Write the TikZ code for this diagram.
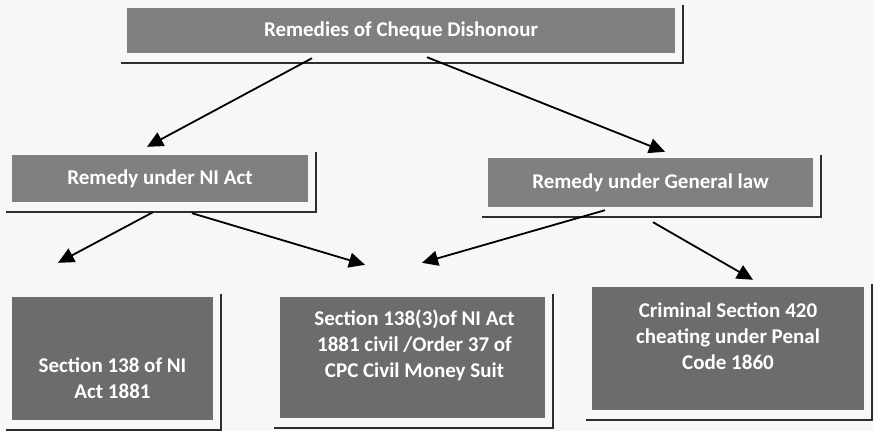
\documentclass[tikz,border=0pt]{standalone}
\usepackage{fontspec}
\setmainfont{Carlito}
\usetikzlibrary{
    arrows.meta,
    positioning,
    calc,
    backgrounds,
}
\definecolor{paper}{RGB}{247,246,248}
\definecolor{boxgray}{RGB}{128,128,128}
\definecolor{leafgray}{RGB}{108,108,108}
\definecolor{rimgray}{RGB}{45,45,45}

% right and bottom rim drawn beside a box
\newcommand{\boxrim}[1]{%
  \draw[rim] ($(#1.north east)+(8,-3)$) -- ($(#1.south east)+(8,10)$)
             -- ($(#1.south west)+(-6,10)$);}

\begin{document}
\begin{tikzpicture}[
    x=1pt, y=-1pt,
    head/.style={fill=boxgray, inner sep=0pt, text=white, align=center,
                font=\bfseries\fontsize{21}{26}\selectfont},
    leaf/.style={fill=leafgray, inner sep=0pt},
    leaftext/.style={text=white, align=center, inner sep=0pt,
                font=\bfseries\fontsize{21}{26}\selectfont},
    rim/.style={draw=rimgray, line width=2.2pt},
    arr/.style={-{Triangle[length=16pt,width=15pt]}, line width=1.8pt},
]
\fill[paper] (0,0) rectangle (874,431);
\useasboundingbox (0,0) rectangle (874,431);

\node[head, minimum width=548pt, minimum height=45pt] at (401,30.5) (remedies) {Remedies of Cheque Dishonour};
\node[head, minimum width=296pt, minimum height=47pt] at (160,178.5) (niAct) {Remedy under NI Act};
\node[head, minimum width=325pt, minimum height=49pt] at (650.5,182.5) (general) {Remedy under General law};

\node[leaf, minimum width=201pt, minimum height=123pt] at (112.5,358.5) (sec138) {};
\node[leaf, minimum width=265pt, minimum height=121pt] at (412.5,357.5) (civil) {};
\node[leaf, minimum width=272pt, minimum height=123pt] at (728,348.5) (criminal) {};

\node[leaftext] at ($(sec138)+(0,20)$) (sec138Text) {Section 138 of NI\\Act 1881};
\node[leaftext] at ($(civil)+(2,-12)$) (civilText) {Section 138(3)of NI Act\\1881 civil /Order 37 of\\CPC Civil Money Suit};
\node[leaftext] at ($(criminal)+(0,-12)$) (criminalText) {Criminal Section 420\\cheating under Penal\\Code 1860};

\boxrim{remedies}
\boxrim{niAct}
\boxrim{general}
\boxrim{sec138}
\boxrim{civil}
\boxrim{criminal}

\draw[arr] ($(remedies.south)+(-89,5)$) -- ($(niAct.north)+(-13,-8)$);
\draw[arr] ($(remedies.south)+(26,4)$) -- ($(general.north)+(14.5,-6)$);

\draw[arr] ($(niAct.south)+(-7,10)$) -- ($(sec138.north)+(-54.5,-34)$);
\draw[arr] ($(niAct.south)+(32,11)$) -- ($(civil.north)+(-47.5,-32)$);

\draw[arr] ($(general.south)+(-45.5,3)$) -- ($(civil.north)+(9.5,-34)$);
\draw[arr] ($(general.south)+(2.5,15)$) -- ($(criminal.north)+(25,-7)$);

\end{tikzpicture}
\end{document}
